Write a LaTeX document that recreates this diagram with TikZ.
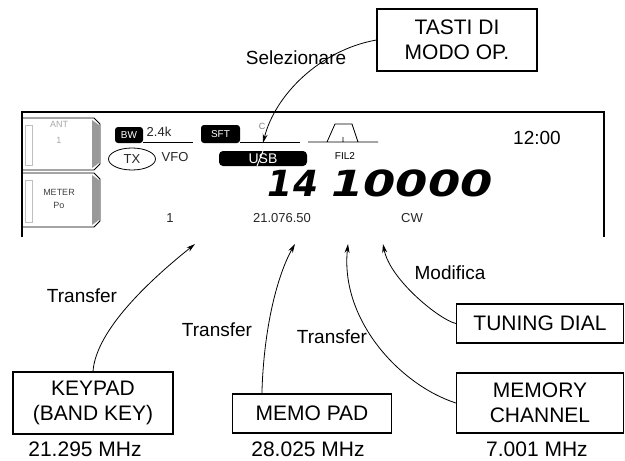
\documentclass[tikz,border=0pt]{standalone}
\usepackage{fontspec}
\setmainfont{Liberation Sans}
\newfontfamily\lcdfont{DejaVu Sans}
\usetikzlibrary{arrows.meta,positioning,shapes.geometric}

\begin{document}
\begin{tikzpicture}[x=1pt,y=-1pt,>={Stealth[length=9pt,width=5pt]}]
\tikzstyle{box}=[rectangle,draw,line width=1.2pt,align=center,inner sep=0pt,font=\fontsize{21}{25}\selectfont]
\tikzstyle{lbl}=[inner sep=0pt,font=\fontsize{19}{22}\selectfont]
\tikzstyle{freq}=[inner sep=0pt,font=\fontsize{21}{25}\selectfont]
\tikzstyle{lcd}=[inner sep=0pt,text=black!85,font=\fontsize{13}{15}\selectfont]
\tikzstyle{tiny}=[inner sep=0pt,font=\fontsize{9}{10}\selectfont]
\tikzstyle{tag}=[rectangle,fill=black,rounded corners=3pt,text=white,inner sep=0pt,font=\fontsize{10}{12}\selectfont]
\tikzstyle{big}=[inner sep=0pt,font={\lcdfont\bfseries\itshape\fontsize{36}{36}\selectfont}]
\tikzstyle{conn}=[->,line width=0.8pt]
\useasboundingbox (0,0) rectangle (625,461);

\draw[line width=1.2pt] (22,237) -- (22,112) -- (604,112) -- (604,237);
\foreach \t/\b in {118/170,173/227}{
  \fill[black!40] (92,\t+2) -- (99,\t+7) -- (99,\b-7) -- (92,\b-2) -- cycle;
  \draw[line width=0.8pt] (22,\t) -- (94,\t) -- (100,\t+6) -- (100,\b-6) -- (94,\b) -- (22,\b);
  \draw[black!25,line width=0.5pt] (25,\t+7) rectangle (32,\b-5);
}
\node[tiny,text=black!35] (ant) at (59,124) {ANT};
\node[tiny,text=black!35] (antn) at (59,140) {1};
\node[tiny,text=black!75] (meter) at (59,192) {METER};
\node[tiny,text=black!75] (po) at (59,205) {Po};

\node[tag,minimum width=28pt,minimum height=16pt] (bw) at (129,135) {BW};
\node[lcd] (bwv) at (159,132) {2.4k};
\draw[line width=0.8pt] (bw.east |- 0,142) -- (193,142);
\node[tag,minimum width=39pt,minimum height=18pt] (sft) at (220.5,134) {SFT};
\draw[line width=0.8pt] (sft.east |- 0,142) -- (300,142);
\node[tiny,text=black!50] (cc) at (262,126) {C};
\draw[line width=0.8pt] (308,142) -- (378,142) (327,142) -- (335,124) -- (352,124) -- (358,142) (343,137) -- (343,142);
\node[tiny,font=\fontsize{10}{12}\selectfont] (fil) at (345,156) {FIL2};
\node[ellipse,draw,line width=0.8pt,minimum width=47pt,minimum height=22pt,inner sep=0pt,lcd] (tx) at (132,159) {TX};
\node[lcd] (vfo) at (175,157) {VFO};
\node[tag,rounded corners=4pt,minimum width=88pt,minimum height=15pt,font=\fontsize{14}{16}\selectfont] (usb) at (263,158.5) {USB};
\draw[white,line width=1pt] (263,151) -- (257,166);
\node[lbl] (clock) at (537,138) {12:00};
\node[big] (band) at (293,183) {14};
\node[big] (vfreq) at (412,183) {\scalebox{1.29}[1]{10000}};
\node[lcd] (ch) at (170,218) {1};
\node[lcd] (memf) at (282,218) {21.076.50};
\node[lcd] (md) at (412,218) {CW};

\coordinate (tusb) at (263,143);
\coordinate (tkp) at (195,244);
\coordinate (tmemo) at (295,244);
\coordinate (tmch) at (348,244);
\coordinate (tdial) at (383,244);

\node[box,minimum width=160pt,minimum height=62pt] (mode) at (457,40) {TASTI DI\\MODO OP.};
\node[box,minimum width=160pt,minimum height=62pt] (kp) at (93,403) {KEYPAD\\(BAND KEY)};
\node[box,minimum width=159pt,minimum height=39pt] (memo) at (312,413.5) {MEMO PAD};
\node[box,minimum width=167pt,minimum height=39pt] (dial) at (540,323.5) {TUNING DIAL};
\node[box,minimum width=167pt,minimum height=60pt] (mch) at (540,403) {MEMORY\\CHANNEL};
\node[freq] (fkp) at (85,449) {21.295 MHz};
\node[freq] (fmemo) at (308,449) {28.025 MHz};
\node[freq] (fmch) at (537,449) {7.001 MHz};

\node[lbl] (sel) at (296,58) {Selezionare};
\node[lbl] (tr1) at (82,296) {Transfer};
\node[lbl] (tr2) at (217,330) {Transfer};
\node[lbl] (tr3) at (332,337) {Transfer};
\node[lbl] (mod) at (450,273) {Modifica};

\draw[conn] (mode.west) .. controls (320,50) and (275,95) .. (tusb);
\draw[conn] (kp.north) .. controls (96,330) and (150,280) .. (tkp);
\draw[conn] ([xshift=30pt]memo.north west) .. controls (264,320) and (280,270) .. (tmemo);
\draw[conn] (mch.west) .. controls (400,385) and (340,320) .. (tmch);
\draw[conn] (dial.west) .. controls (440,320) and (390,280) .. (tdial);
\end{tikzpicture}
\end{document}
